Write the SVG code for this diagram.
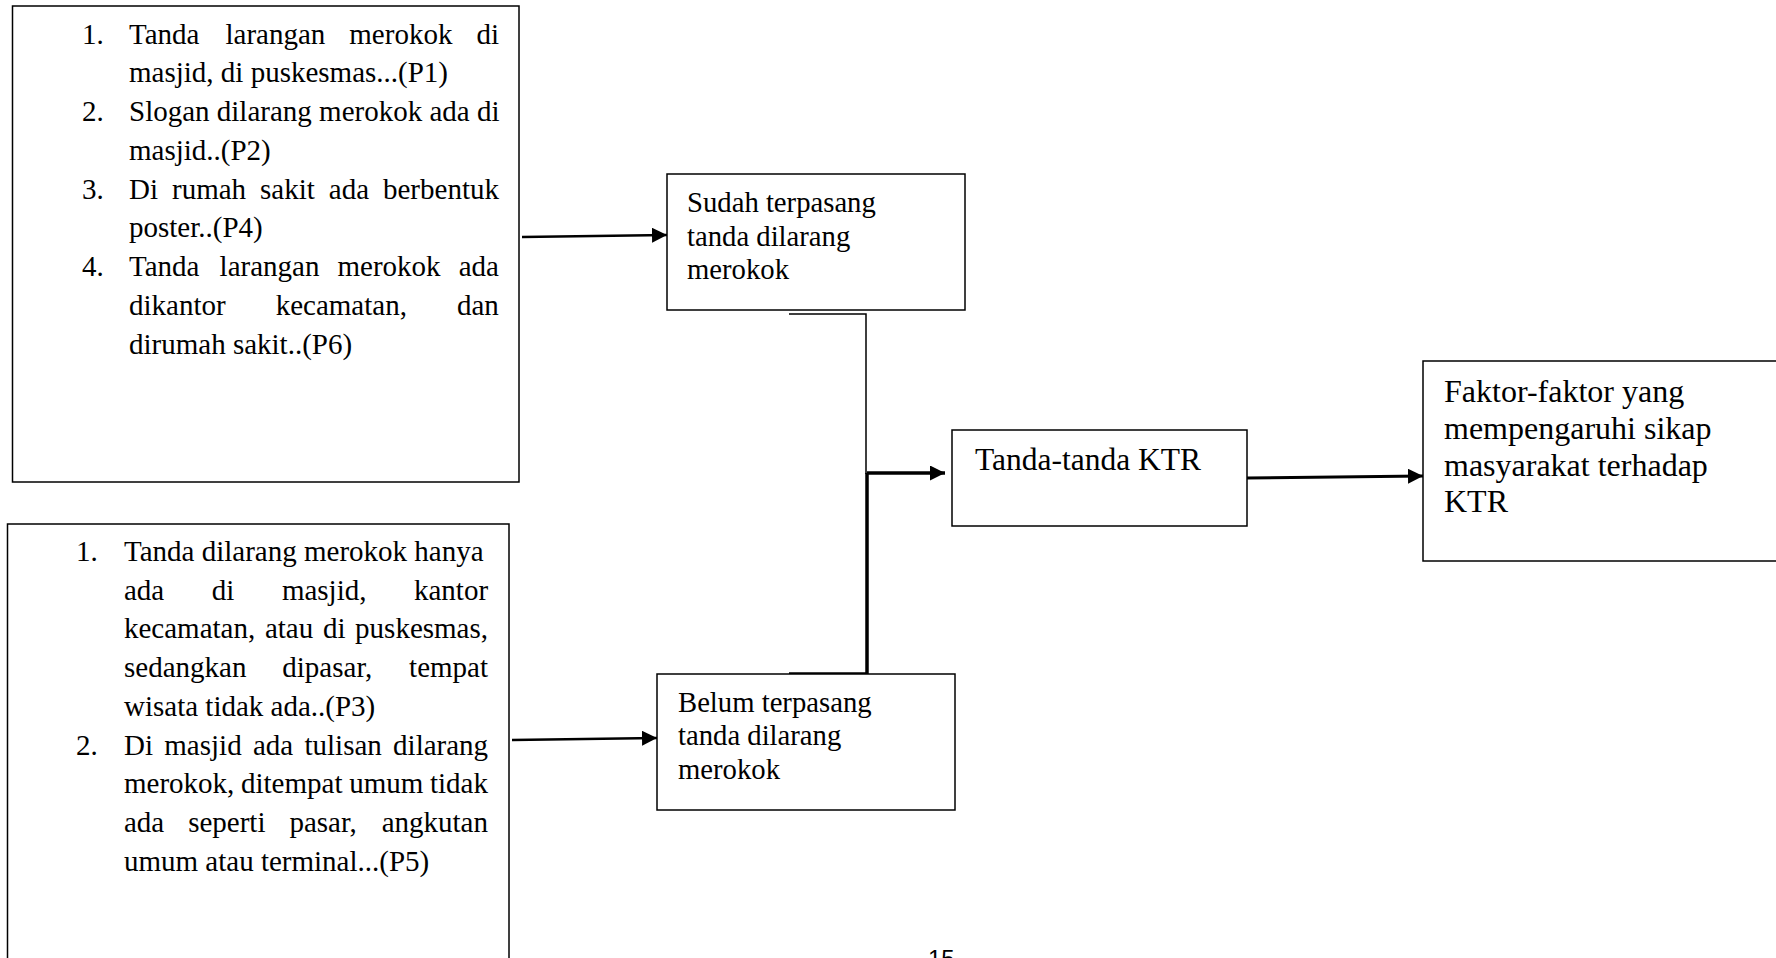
<svg xmlns="http://www.w3.org/2000/svg" width="1776" height="958" viewBox="0 0 1776 958">
<style>
.box{fill:#fff;stroke:#000;stroke-width:1.5}
.t{font-family:"Liberation Serif","Times New Roman",serif;fill:#000}
.s29{font-size:29px}
.s287{font-size:28.7px}
.s31{font-size:31.5px}
.s32{font-size:32px}
.c{fill:none;stroke:#000}
</style>
<defs>
<marker id="ah" markerUnits="userSpaceOnUse" markerWidth="16" markerHeight="15" refX="15" refY="7.5" orient="auto">
<path d="M0,0 L15,7.5 L0,15 z" fill="#000"/>
</marker>
</defs>
<rect width="1776" height="958" fill="#fff"/>

<g id="connectors">
<line class="c" x1="522" y1="237" x2="667" y2="235" stroke-width="2.6" marker-end="url(#ah)"/>
<line class="c" x1="512" y1="740" x2="657" y2="738" stroke-width="2.6" marker-end="url(#ah)"/>
<path class="c" d="M789,314 H866 V474" stroke-width="1.5"/>
<path class="c" d="M789,674 H867 V473" stroke-width="3.5"/>
<line class="c" x1="867" y1="473" x2="945" y2="473" stroke-width="3.5" marker-end="url(#ah)"/>
<line class="c" x1="1247" y1="478" x2="1423" y2="476" stroke-width="3" marker-end="url(#ah)"/>
</g>

<g id="box-p1">
<rect class="box" x="12.5" y="6" width="506.5" height="476"/>
<text class="t s29">
<tspan x="82" y="43.5">1.</tspan>
<tspan x="129" y="43.5">Tanda</tspan><tspan x="225.5" y="43.5">larangan</tspan><tspan x="349.3" y="43.5">merokok</tspan><tspan x="476.4" y="43.5">di</tspan>
<tspan x="129" y="82.3">masjid, di puskesmas...(P1)</tspan>
<tspan x="82" y="121">2.</tspan>
<tspan x="129" y="121">Slogan dilarang merokok ada di</tspan>
<tspan x="129" y="159.8">masjid..(P2)</tspan>
<tspan x="82" y="198.5">3.</tspan>
<tspan x="129" y="198.5">Di</tspan><tspan x="172" y="198.5">rumah</tspan><tspan x="260" y="198.5">sakit</tspan><tspan x="328.8" y="198.5">ada</tspan><tspan x="383" y="198.5">berbentuk</tspan>
<tspan x="129" y="237.3">poster..(P4)</tspan>
<tspan x="82" y="276">4.</tspan>
<tspan x="129" y="276">Tanda</tspan><tspan x="219.6" y="276">larangan</tspan><tspan x="337.5" y="276">merokok</tspan><tspan x="458.7" y="276">ada</tspan>
<tspan x="129" y="314.8">dikantor</tspan><tspan x="275.7" y="314.8">kecamatan,</tspan><tspan x="457" y="314.8">dan</tspan>
<tspan x="129" y="353.5">dirumah sakit..(P6)</tspan>
</text>
</g>

<g id="box-p2">
<rect class="box" x="7.5" y="524" width="501.5" height="470"/>
<text class="t s29">
<tspan x="76" y="561">1.</tspan>
<tspan x="124" y="561">Tanda dilarang merokok hanya</tspan>
<tspan x="124" y="599.7">ada</tspan><tspan x="211.8" y="599.7">di</tspan><tspan x="281.9" y="599.7">masjid,</tspan><tspan x="414" y="599.7">kantor</tspan>
<tspan x="124" y="638.4">kecamatan,</tspan><tspan x="264.9" y="638.4">atau</tspan><tspan x="322.9" y="638.4">di</tspan><tspan x="355.1" y="638.4">puskesmas,</tspan>
<tspan x="124" y="677.1">sedangkan</tspan><tspan x="282.3" y="677.1">dipasar,</tspan><tspan x="409.1" y="677.1">tempat</tspan>
<tspan x="124" y="715.8">wisata tidak ada..(P3)</tspan>
<tspan x="76" y="754.5">2.</tspan>
<tspan x="124" y="754.5">Di</tspan><tspan x="164.3" y="754.5">masjid</tspan><tspan x="252.9" y="754.5">ada</tspan><tspan x="304.5" y="754.5">tulisan</tspan><tspan x="393.1" y="754.5">dilarang</tspan>
<tspan x="124" y="793.2">merokok,</tspan><tspan x="241" y="793.2">ditempat</tspan><tspan x="349.2" y="793.2">umum</tspan><tspan x="430" y="793.2">tidak</tspan>
<tspan x="124" y="831.9">ada</tspan><tspan x="188.2" y="831.9">seperti</tspan><tspan x="289.4" y="831.9">pasar,</tspan><tspan x="381.7" y="831.9">angkutan</tspan>
<tspan x="124" y="870.6">umum atau terminal...(P5)</tspan>
</text>
</g>

<g id="box-sudah">
<rect class="box" x="667" y="174" width="298" height="136"/>
<text class="t s287">
<tspan x="687" y="212">Sudah terpasang</tspan>
<tspan x="687" y="245.5">tanda dilarang</tspan>
<tspan x="687" y="279">merokok</tspan>
</text>
</g>

<g id="box-belum">
<rect class="box" x="657" y="674" width="298" height="136"/>
<text class="t s287">
<tspan x="678" y="711.5">Belum terpasang</tspan>
<tspan x="678" y="745">tanda dilarang</tspan>
<tspan x="678" y="778.5">merokok</tspan>
</text>
</g>

<g id="box-tanda">
<rect class="box" x="952" y="430" width="295" height="96"/>
<text class="t s31" x="975" y="470">Tanda-tanda KTR</text>
</g>

<g id="box-faktor">
<rect class="box" x="1423" y="361" width="360" height="200"/>
<text class="t s32">
<tspan x="1444" y="402">Faktor-faktor yang</tspan>
<tspan x="1444" y="439">mempengaruhi sikap</tspan>
<tspan x="1444" y="476">masyarakat terhadap</tspan>
<tspan x="1444" y="512">KTR</tspan>
</text>
</g>

<g id="page-number">
<text x="928" y="967" font-family="'Liberation Sans',Arial,sans-serif" font-size="24" fill="#000">15</text>
</g>
</svg>
